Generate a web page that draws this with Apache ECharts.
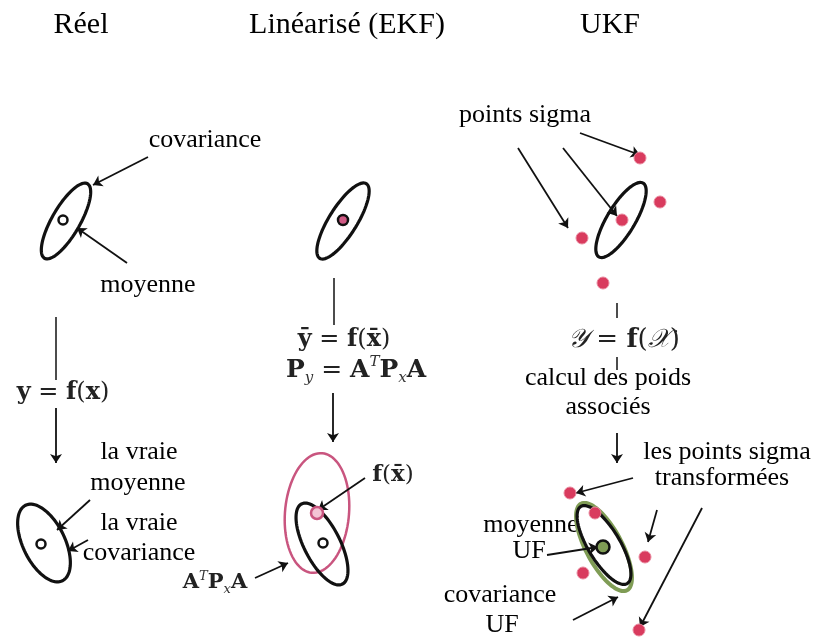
<!DOCTYPE html>
<html><head><meta charset="utf-8">
<script src="https://cdn.jsdelivr.net/npm/echarts@6/dist/echarts.min.js"></script>
<style>html,body{margin:0;padding:0;background:#fff}#c{width:815px;height:639px}</style>
</head><body><div id="c"></div>
<script>
// Diagram data (pixel-space coordinates on hidden value axes)
// ellipses: [cx, cy, semiMajor, semiMinor, angleDeg]
const blackEllipses = [
  [66, 221, 43, 14, 60],
  [343, 221, 44, 14, 58],
  [621, 220, 43, 14, 59],
  [44, 543, 42, 21, 116],
  [322, 544, 45, 18, 117],
  [604, 545, 45, 16, 121]
];
const pinkEllipses = [[317, 513, 60, 32, 85]];
const greenEllipses = [[604, 547, 49, 18, 118]];

const sigmaPoints = [[640,158],[660,202],[622,220],[582,238],[603,283]];
const sigmaTransformed = [[570,493],[595,513],[645,557],[583,573],[639,630]];

const meanWhite = [[63,220],[41,544],[323,543]];
const meanPink = [[343,220]];
const meanPinkRing = [[317,513]];
const meanGreen = [[603,547]];

const plainLines = [
  [[56,317],[56,380]],
  [[334,278],[334,325]],
  [[617,303],[617,318]],
  [[617,357],[617,370]]
];
const arrowLines = [
  [[56,408],[56,463]],
  [[333,393],[333,442]],
  [[617,433],[617,463]],
  [[148,157],[93,185]],
  [[127,263],[77,228]],
  [[90,500],[57,530]],
  [[88,540],[68,551]],
  [[365,478],[318,510]],
  [[255,578],[288,563]],
  [[580,133],[640,155]],
  [[563,148],[617,216]],
  [[518,148],[568,228]],
  [[633,478],[576,493]],
  [[657,510],[648,542]],
  [[702,508],[640,627]],
  [[547,555],[598,547]],
  [[573,620],[618,597]]
];

const titles = [['Réel',81,25],['Linéarisé (EKF)',347,25],['UKF',610,25]];
const labels = [
  ['covariance',205,140],['moyenne',148,285],
  ['la vraie',139,452],['moyenne',138,483],['la vraie',139,523],['covariance',139,553],
  ['points sigma',525,115],['calcul des poids',608,378],['associés',608,407],
  ['les points sigma',727,452],['transformées',722,478],
  ['moyenne',531,525],['UF',529,551],['covariance',500,595],['UF',502,625]
];

const chart = echarts.init(document.getElementById('c'));

function ellipseSeries(data, color, width) {
  return {
    type: 'custom', coordinateSystem: 'cartesian2d', data: data, silent: true,
    renderItem: function (params, api) {
      const cx = api.value(0), cy = api.value(1), a = api.value(2), b = api.value(3);
      const th = api.value(4) * Math.PI / 180;
      const pts = [];
      for (let i = 0; i < 90; i++) {
        const t = i / 90 * Math.PI * 2;
        const dx = a * Math.cos(t) * Math.cos(th) - b * Math.sin(t) * Math.sin(th);
        const dy = a * Math.cos(t) * Math.sin(th) + b * Math.sin(t) * Math.cos(th);
        pts.push(api.coord([cx + dx, cy - dy]));
      }
      return { type: 'polygon', shape: { points: pts }, style: { fill: 'none', stroke: color, lineWidth: width } };
    }
  };
}

const serif = 'Liberation Serif';
const math = 'DejaVu Serif';
const graphics = [];
titles.forEach(t => graphics.push({type:'text', x:t[1], y:t[2], style:{text:t[0], font:'30px "' + serif + '"', fill:'#000', align:'center', verticalAlign:'middle'}}));
labels.forEach(t => graphics.push({type:'text', x:t[1], y:t[2], style:{text:t[0], font:'26px "' + serif + '"', fill:'#000', align:'center', verticalAlign:'middle'}}));

function mathText(text, x, y, size) {
  const lh = Math.round(size * 1.25), sl = Math.round(size * 0.7);
  return {type:'text', x:x, y:y, style:{
    text:text, fontFamily: math, fontSize:size, fill:'#222', align:'center', verticalAlign:'middle',
    rich:{
      b:{fontFamily:math, fontWeight:'bold', fontSize:size, fill:'#222', lineHeight:lh},
      n:{fontFamily:math, fontSize:size, fill:'#222', lineHeight:lh},
      sub:{fontFamily:math, fontStyle:'italic', fontSize:Math.round(size*0.6), fill:'#333', lineHeight:sl, verticalAlign:'bottom'},
      sup:{fontFamily:math, fontStyle:'italic', fontSize:Math.round(size*0.6), fill:'#333', lineHeight:sl, verticalAlign:'top'},
      s:{fontFamily:'DejaVu Sans', fontStyle:'italic', fontSize:size, fill:'#222', lineHeight:lh}
    }}};
}
graphics.push(mathText('{b|y}{n| = }{b|f}{n|(}{b|x}{n|)}', 63, 393, 24));
graphics.push(mathText('{b|ȳ}{n| = }{b|f}{n|(}{b|x\u0304}{n|)}', 344, 340, 24));
graphics.push(mathText('{b|P}{sub|y}{n| = }{b|A}{sup|T}{b|P}{sub|x}{b|A}', 356, 370, 25));
graphics.push(mathText('{b|f}{n|(}{b|x\u0304}{n|)}', 393, 475, 23));
graphics.push(mathText('{b|A}{sup|T}{b|P}{sub|x}{b|A}', 215, 583, 21));
graphics.push(mathText('{s|𝒴}{n| = }{b|f}{n|(}{s|𝒳}{n|)}', 624, 340, 26));

chart.setOption({
  animation: false,
  grid: {left:0, right:0, top:0, bottom:0},
  xAxis: {type:'value', min:0, max:815, show:false},
  yAxis: {type:'value', min:0, max:639, inverse:true, show:false},
  graphic: graphics,
  series: [
    ellipseSeries(greenEllipses, '#7f9c55', 4),
    ellipseSeries(pinkEllipses, '#c9557f', 2.5),
    ellipseSeries(blackEllipses, '#111', 3.2),
    {type:'lines', coordinateSystem:'cartesian2d', silent:true, symbol:['none','none'],
     lineStyle:{color:'#111', width:1.5, opacity:1}, data: plainLines.map(c => ({coords:c}))},
    {type:'lines', coordinateSystem:'cartesian2d', silent:true, symbol:['none','arrow'], symbolSize:9,
     lineStyle:{color:'#111', width:1.8, opacity:1}, data: arrowLines.map(c => ({coords:c}))},
    {type:'scatter', silent:true, symbol:'circle', symbolSize:12, data: sigmaPoints.concat(sigmaTransformed),
     itemStyle:{color:'#d93b5e', borderColor:'#e8889d', borderWidth:1, opacity:1}},
    {type:'scatter', silent:true, symbolSize:9, data: meanWhite, itemStyle:{color:'#fff', borderColor:'#111', borderWidth:2.5, opacity:1}},
    {type:'scatter', silent:true, symbolSize:10, data: meanPink, itemStyle:{color:'#d05a85', borderColor:'#111', borderWidth:2.5, opacity:1}},
    {type:'scatter', silent:true, symbolSize:12, data: meanPinkRing, itemStyle:{color:'#f3c4d4', borderColor:'#c9557f', borderWidth:2.5, opacity:1}},
    {type:'scatter', silent:true, symbolSize:13, data: meanGreen, itemStyle:{color:'#7f9c55', borderColor:'#111', borderWidth:2.5, opacity:1}}
  ]
});
</script></body></html>
